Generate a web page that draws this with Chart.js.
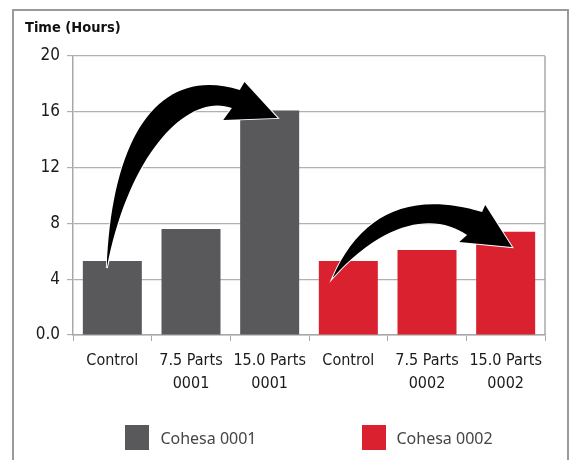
<!DOCTYPE html>
<html><head><meta charset="utf-8">
<script src="https://cdn.jsdelivr.net/npm/chart.js@4"></script>
<style>
html,body{margin:0;padding:0;background:#fff;}
#wrap{position:relative;width:574px;height:460px;overflow:hidden;}
canvas{position:absolute;left:0;top:0;}
#legend{position:absolute;left:73px;width:472px;top:425px;display:flex;justify-content:center;gap:105px;font-family:'Noto Sans';font-size:16px;color:#454545;}
.item{display:flex;align-items:center;height:25px;white-space:nowrap;}
.box{width:24px;height:25px;margin-right:11px;}
</style></head>
<body><div id="wrap"><canvas id="c" width="574" height="460"></canvas><div id="legend"></div></div>
<script>
const categories = [['Control'], ['7.5 Parts', '0001'], ['15.0 Parts', '0001'], ['Control'], ['7.5 Parts', '0002'], ['15.0 Parts', '0002']];
const seriesNames = ['Cohesa 0001', 'Cohesa 0002'];
const cohesa0001 = [5.3, 7.6, 16.1, null, null, null];
const cohesa0002 = [null, null, null, 5.3, 6.1, 7.4];
const yTickLabels = ['0.0', '4', '8', '12', '16', '20'];
const axisTitle = 'Time (Hours)';
const colors = ['#59595b', '#d9212f'];

const tickFont = {family: "'DejaVu Sans Condensed', 'DejaVu Sans'", size: 16, lineHeight: 1.44};

// arrow outlines in (category index, value) space
const arrows = [
  {T:[-0.07,4.80], oc1:[-0.006,14.34], oc2:[0.60,19.35], O:[1.62,17.56], A:[1.68,18.14], H:[2.10,15.56], B:[1.41,15.41], I:[1.52,16.27], ic1:[0.98,17.42], ic2:[0.22,13.26]},
  {T:[2.80,4.09], oc1:[3.14,8.60], oc2:[3.77,10.39], O:[4.70,8.82], A:[4.74,9.32], H:[5.08,6.31], B:[4.41,6.67], I:[4.51,7.17], ic1:[4.15,8.60], ic2:[3.52,8.60]}
];

const decor = {
  id: 'decor',
  beforeDraw(chart) {
    const ctx = chart.ctx;
    ctx.save();
    ctx.fillStyle = '#fff';
    ctx.fillRect(0, 0, chart.width, chart.height);
    ctx.strokeStyle = '#9a9a9a';
    ctx.lineWidth = 2;
    ctx.strokeRect(13, 10, 555, 480);
    ctx.fillStyle = '#111';
    ctx.font = "bold 14.5px 'DejaVu Sans Condensed', 'DejaVu Sans'";
    ctx.textBaseline = 'middle';
    ctx.textAlign = 'left';
    ctx.fillText(axisTitle, 25, 28);
    ctx.restore();
  },
  beforeDatasetsDraw(chart) {
    const ctx = chart.ctx, a = chart.chartArea;
    ctx.save();
    ctx.strokeStyle = '#a8a8a8';
    ctx.lineWidth = 1.5;
    ctx.beginPath();
    ctx.moveTo(a.right, a.top);
    ctx.lineTo(a.right, a.bottom);
    ctx.stroke();
    ctx.restore();
  },
  afterDatasetsDraw(chart) {
    const ctx = chart.ctx, xs = chart.scales.x, ys = chart.scales.y;
    const P = p => [xs.getPixelForValue(p[0]), ys.getPixelForValue(p[1])];
    ctx.save();
    arrows.forEach(ar => {
      const T = P(ar.T), oc1 = P(ar.oc1), oc2 = P(ar.oc2), O = P(ar.O), A = P(ar.A), H = P(ar.H), B = P(ar.B), I = P(ar.I), ic1 = P(ar.ic1), ic2 = P(ar.ic2);
      ctx.beginPath();
      ctx.moveTo(T[0], T[1]);
      ctx.bezierCurveTo(oc1[0], oc1[1], oc2[0], oc2[1], O[0], O[1]);
      ctx.lineTo(A[0], A[1]);
      ctx.lineTo(H[0], H[1]);
      ctx.lineTo(B[0], B[1]);
      ctx.lineTo(I[0], I[1]);
      ctx.bezierCurveTo(ic1[0], ic1[1], ic2[0], ic2[1], T[0], T[1]);
      ctx.closePath();
      ctx.lineJoin = 'miter';
      ctx.strokeStyle = '#fff';
      ctx.lineWidth = 2;
      ctx.stroke();
      ctx.fillStyle = '#000';
      ctx.fill();
    });
    ctx.restore();
  }
};

const chart = new Chart(document.getElementById('c'), {
  type: 'bar',
  data: {
    labels: categories,
    datasets: [
      {label: seriesNames[0], data: cohesa0001, backgroundColor: colors[0], barPercentage: 0.75, categoryPercentage: 1},
      {label: seriesNames[1], data: cohesa0002, backgroundColor: colors[1], barPercentage: 0.75, categoryPercentage: 1}
    ]
  },
  options: {
    responsive: false,
    animation: false,
    devicePixelRatio: 1,
    layout: {padding: {left: 25, right: 29, top: 56, bottom: 0}},
    plugins: {legend: {display: false}, tooltip: {enabled: false}, title: {display: false}},
    scales: {
      x: {
        stacked: true,
        grid: {display: true, drawOnChartArea: false, drawTicks: true, tickLength: 6, color: '#a8a8a8', offset: true},
        border: {display: true, color: '#a8a8a8', width: 1.5},
        ticks: {font: tickFont, color: '#1a1a1a', padding: 8, maxRotation: 0, autoSkip: false},
        afterFit(s) { s.height = 125; }
      },
      y: {
        stacked: true,
        min: 0, max: 20,
        grid: {color: '#b0b0b0', lineWidth: 1.2, tickLength: 6, drawTicks: true},
        border: {display: true, color: '#a8a8a8', width: 1.5},
        ticks: {stepSize: 4, font: {family: "'DejaVu Sans Condensed', 'DejaVu Sans'", size: 17}, color: '#1a1a1a', padding: 7,
          callback: (v, i) => yTickLabels[i]},
        afterFit(s) { s.width = 48; }
      }
    }
  },
  plugins: [decor]
});

const leg = document.getElementById('legend');
chart.data.datasets.forEach(ds => {
  const it = document.createElement('div'); it.className = 'item';
  const b = document.createElement('div'); b.className = 'box'; b.style.background = ds.backgroundColor;
  const t = document.createElement('span'); t.textContent = ds.label;
  it.appendChild(b); it.appendChild(t); leg.appendChild(it);
});
</script>
</body></html>
